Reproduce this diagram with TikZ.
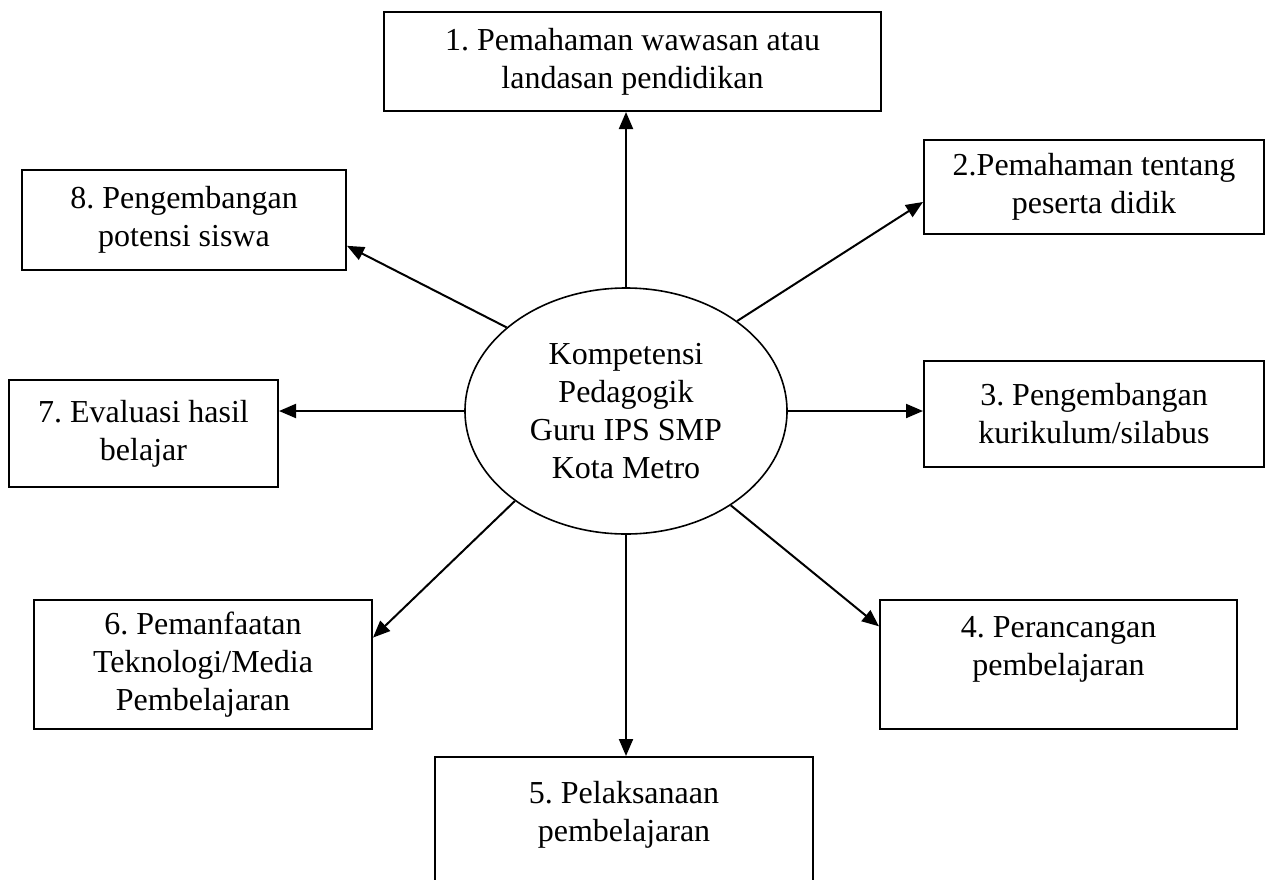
\documentclass[tikz,border=0pt]{standalone}
\usepackage{fontspec}
\setmainfont{Liberation Serif}
\usetikzlibrary{arrows.meta,shapes.geometric}
\frenchspacing

\begin{document}
\begin{tikzpicture}[x=0.5pt,y=-0.5pt,
    font=\fontsize{16}{19}\selectfont,
    box/.style={draw,line width=1pt,align=center,inner sep=0pt},
  ]
      \useasboundingbox (0,0) rectangle (1268,879);
      \draw
        (626,411) node[ellipse,draw,line width=0.8pt,inner sep=0pt,align=center,
          minimum width=161pt,minimum height=123pt] (k){Kompetensi\\Pedagogik\\Guru IPS SMP\\Kota Metro}
        (632.5,61.5) node[box,minimum width=248.5pt,minimum height=49.5pt] (1){1. Pemahaman wawasan atau\\landasan pendidikan}
        (1094,187) node[box,minimum width=170pt,minimum height=47pt] (2){2.Pemahaman tentang\\peserta didik}
        (1094,414) node[box,minimum width=170pt,minimum height=53pt] (3){3. Pengembangan\\kurikulum/silabus}
        (1058.5,664.5) node[box,minimum width=178.5pt,minimum height=64.5pt] (4){4. Perancangan\\pembelajaran\\~}
        (624,830) node[box,minimum width=189pt,minimum height=73pt] (5){5. Pelaksanaan\\pembelajaran\\~}
        (203,664.5) node[box,minimum width=169pt,minimum height=64.5pt] (6){6. Pemanfaatan\\Teknologi/Media\\Pembelajaran}
        (143.5,433.5) node[box,minimum width=134.5pt,minimum height=53.5pt] (7){7. Evaluasi hasil\\belajar}
        (184,220) node[box,minimum width=162pt,minimum height=50pt] (8){8. Pengembangan\\potensi siswa};
      \begin{scope}[-{Triangle[length=8.5pt,width=7pt]},line width=1pt]
        \draw (k.north) to (k.north |- 1.south);
        \draw (k.39) to (2.185);
        \draw (k.east) to (k.east -| 3.west);
        \draw (k.318) to (4.168);
        \draw (k.south) to (k.south |- 5.north);
        \draw (k.219) to (6.9);
        \draw (k.west) to (k.west -| 7.east);
        \draw (k.145) to (8.351);
      \end{scope}
    \end{tikzpicture}
\end{document}
